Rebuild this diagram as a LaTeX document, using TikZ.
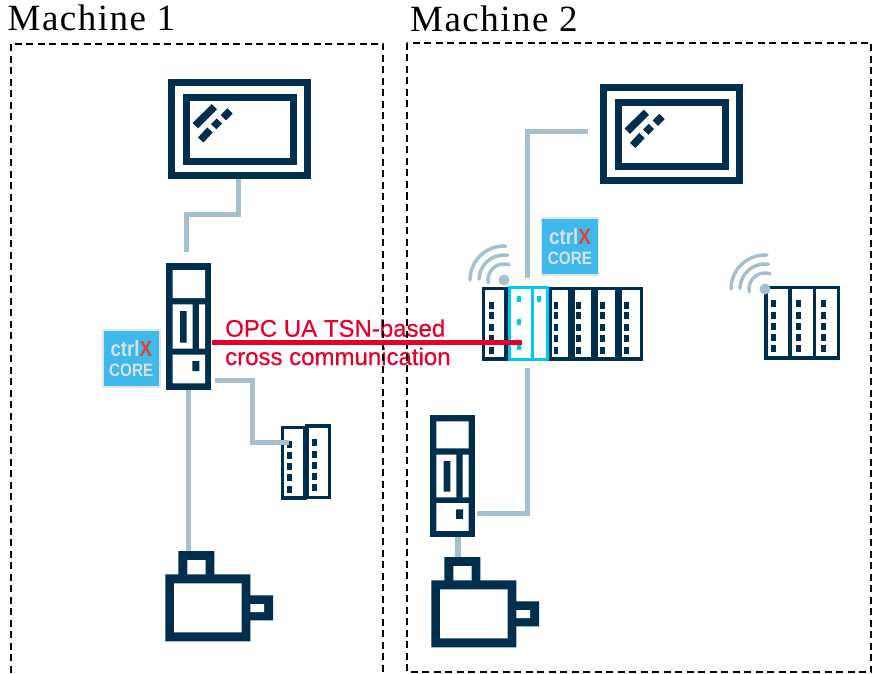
\documentclass[tikz,border=0pt]{standalone}
\usepackage{fontspec}
\setmainfont{Liberation Serif}
\setsansfont{Liberation Sans}
\newfontfamily\titlefont[LetterSpace=4]{Liberation Serif}
\newfontfamily\redfont[FakeBold=.5]{Liberation Sans}
\newfontfamily\corefont[FakeStretch=.85]{Liberation Sans}
\definecolor{navy}{HTML}{002E4D}
\definecolor{wire}{HTML}{A5BFCF}
\definecolor{signal}{HTML}{E4002B}
\definecolor{active}{HTML}{00C8F5}
\definecolor{corebg}{HTML}{3FB8EC}
\definecolor{coretx}{HTML}{D3E2E9}
\definecolor{corex}{HTML}{E2432E}
\tikzset{
 title/.style={anchor=base west,inner sep=0pt,font=\titlefont\fontsize{37}{37}\selectfont},
 redtext/.style={anchor=base west,inner sep=0pt,text=signal,font=\redfont\fontsize{24}{24}\selectfont},
 cable/.style={draw=wire,line width=5pt},
 wave/.style={draw=wire,line width=3.5pt,line cap=round},
 boxline/.style={draw=black,line width=2pt,dash pattern=on 7pt off 4.5pt},
 slice/.style={draw=navy,line width=3.5pt},
 badge/.style={fill=corebg,draw=black!10,line width=1.5pt,minimum size=57pt,inner sep=0pt,
  align=center,text=coretx,font=\corefont\bfseries\fontsize{18}{20}\selectfont},
 pics/hmi/.style={code={
  \draw[navy,line width=7pt] (3.5,3.5) rectangle (139.5,96.5) (18,18.5) rectangle (125.5,82.5);
  \draw[navy,line width=7.5pt] (46.4,27.7)--(27.3,46.7) (62,32)--(55.3,38.7)
   (51.3,42)--(45.7,47.7) (42,51)--(32.7,61);
 }},
 pics/servodrive/.style={code={
  \fill[navy] (0,0) rectangle (45,126.7);
  \fill[white] (6.4,6.7) rectangle (38.7,34.7) (6.4,41) rectangle (26.4,85.4)
   (32.7,41) rectangle (38.7,85.4) (6.4,91.4) rectangle (38.7,120);
  \fill[navy] (13.7,47.7) rectangle (20.4,79.4) (26,97.7) rectangle (33,107.7);
 }},
 pics/servomotor/.style={code={
  \fill[navy] (13,0) rectangle (49,24) (0,23.3) rectangle (85,90.3) (85,44.3) rectangle (107.7,69.3);
  \fill[white] (22,9) rectangle (40.4,23.3) (8.7,32.3) rectangle (76.4,81.3) (85,53) rectangle (98.7,61);
 }},
}
\begin{document}
\begin{tikzpicture}[x=1pt,y=-1pt,line join=miter]
 \useasboundingbox (0,0) rectangle (876,674);
 \node[title] (machine1) at (7.5,31) {Machine 1};
 \node[title] (machine2) at (410,31.5) {Machine 2};
 \node[redtext] (opc1) at (225,336.7) {OPC UA TSN-based};
 \node[redtext] (opc2) at (225,365) {cross communication};
 \draw[boxline] (10.5,684)--(10.5,44)--(383,44)--(383,684);
 \draw[boxline] (407,43) rectangle (871,672);

 % connection points
 \coordinate (hmi1out) at (238,179);
 \coordinate (bend1) at (186,214);
 \coordinate (drive1in) at (186,252);
 \coordinate (drive1io) at (215,380);
 \coordinate (bend2) at (252.3,442);
 \coordinate (io1in) at (289,442);
 \coordinate (drive1out) at (188,390);
 \coordinate (motor1in) at (188,551);
 \coordinate (hmi2out) at (588,132);
 \coordinate (bend3) at (527.7,132);
 \coordinate (plcin) at (527.7,278);
 \coordinate (plcout) at (527.7,368);
 \coordinate (bend4) at (527.7,513);
 \coordinate (drive2in) at (477,513);
 \coordinate (drive2out) at (458.3,537);
 \coordinate (motor2in) at (458.3,560);
 \coordinate (redstart) at (212,342.6);
 \coordinate (redend) at (522,342.6);
 \coordinate (wifi1) at (504,280);
 \coordinate (wifi2) at (765,289);

 \draw[cable] (hmi1out)--(hmi1out|-bend1)--(bend1)--(drive1in);
 \draw[cable] (drive1out)--(motor1in);
 \draw[cable] (hmi2out)--(bend3)--(plcin);
 \draw[cable] (plcout)--(bend4)--(drive2in);
 \draw[cable,line width=6pt] (drive2out)--(motor2in);

 \pic (hmi1) at (168,79) {hmi};
 \pic (hmi2) at (600,84.5) {hmi};
 \pic (drive1) at (166.3,263.3) {servodrive};
 \pic[yscale=.965] (drive2) at (430,415) {servodrive};
 \pic (motor1) at (165.3,551) {servomotor};
 \pic (motor2) at (431.3,557) {servomotor};

 % I/O slices
 \foreach \l/\r/\d in {483.7/506.2/491.3,550.4/570/556,573.4/593/578.3,596.4/617/602.3,620.4/641.5/626.3}{
  \draw[slice] (\l,288.5) rectangle (\r,359);
  \foreach \y in {305,315.7,327.3,338.3,350}
   \fill[navy] (\d-2.3,\y-3.5) rectangle (\d+2.3,\y+3.5);
 }
 \draw[draw=active,line width=3pt] (509.5,287.5) rectangle (547.2,359.2) (532,287.5)--(532,359.2);
 \foreach \d/\y in {519/299.3,519/322,519/346.7,539/299.3}
  \fill[active] (\d-2.3,\y-3) rectangle (\d+2.3,\y+3);
 \foreach \l/\r/\d in {765.8/790/773.3,790/814.3/798.3,814.3/838.5/823.3}{
  \draw[slice] (\l,287.5) rectangle (\r,358.2);
  \foreach \y in {303.3,315.3,326,337.3,348.7}
   \fill[navy] (\d-2.3,\y-3.5) rectangle (\d+2.3,\y+3.5);
 }
 \draw[slice] (282.5,427.5) rectangle (305,498);
 \draw[slice] (307,426) rectangle (329.5,497.5);
 \foreach \y in {444,455.3,466.7,477.7,489}
  \fill[navy] (289.7-2.3,\y-3.5) rectangle (289.7+2.3,\y+3.5);
 \foreach \y in {442.7,454,465.3,476.7,487.7}
  \fill[navy] (314.3-2.3,\y-3.5) rectangle (314.3+2.3,\y+3.5);
 \draw[cable] (drive1io)--(bend2 |- drive1io)--(bend2)--(io1in);

 % wireless
 \foreach \w in {wifi1,wifi2}{
  \fill[wire] (\w) circle (5.5pt);
  \foreach \rad/\s/\e in {16/-190/-72,25/-178/-82,34/-180/-87}
   \draw[wave] (\w) ++(\s:\rad) arc[start angle=\s,end angle=\e,radius=\rad];
 }

 \node[badge] (core1) at (131.3,358.3) {{\fontsize{22}{20}\selectfont ctrl{\color{corex}X}}\\CORE};
 \node[badge] (core2) at (570,246.3) {{\fontsize{22}{20}\selectfont ctrl{\color{corex}X}}\\CORE};

 \draw[signal,line width=4.7pt] (redstart)--(redend);
\end{tikzpicture}
\end{document}
